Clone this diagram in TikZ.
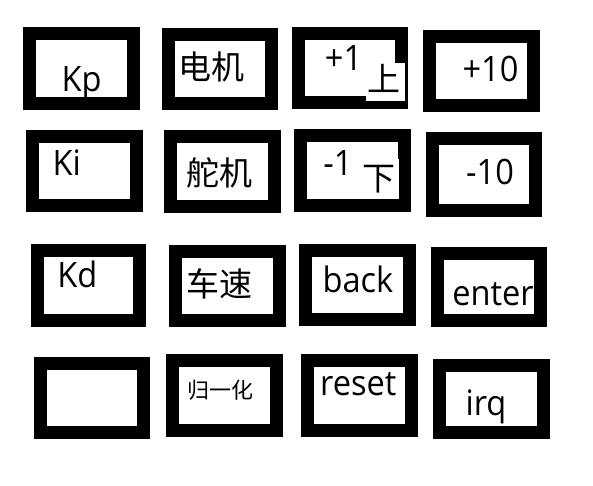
\documentclass[tikz,border=0pt]{standalone}
\usepackage{fontspec}
\setmainfont{Open Sans}[FakeStretch=0.93]
\newfontfamily\cjk{Noto Sans CJK SC}
\tikzset{
  keybox/.style={draw=black, line width=13pt, fill=white, inner sep=0pt},
  lat/.style={anchor=base, inner sep=0pt, font=\fontsize{35}{40}\selectfont},
  han/.style={anchor=base, inner sep=0pt, font=\cjk\fontsize{33}{38}\selectfont},
  hansmall/.style={anchor=base, inner sep=0pt, font=\cjk\fontsize{22}{26}\selectfont},
}
\begin{document}
\begin{tikzpicture}[x=1pt,y=-1pt]
\useasboundingbox[fill=white] (0,0) rectangle (593,485);
% row 1
\node[keybox, minimum width=103.7pt, minimum height=69.7pt] (b1) at (81.3,68.3) {};
\node[keybox, minimum width=103pt, minimum height=68.7pt] (b2) at (220,68.8) {};
\node[keybox, minimum width=103pt, minimum height=68.7pt] (b3) at (350,67.8) {};
\node[keybox, minimum width=104pt, minimum height=68.7pt] (b4) at (481.5,70.8) {};
% row 2
\node[keybox, minimum width=104pt, minimum height=68.7pt] (b5) at (84.5,170.8) {};
\node[keybox, minimum width=103.7pt, minimum height=69.7pt] (b6) at (222.3,171.3) {};
\node[keybox, minimum width=103.7pt, minimum height=69.7pt] (b7) at (352.3,170.3) {};
\node[keybox, minimum width=102.7pt, minimum height=71.7pt] (b8) at (483.8,174.3) {};
% row 3
\node[keybox, minimum width=102pt, minimum height=69.7pt] (b9) at (88.5,285.3) {};
\node[keybox, minimum width=104pt, minimum height=69pt] (b10) at (227.5,286) {};
\node[keybox, minimum width=104pt, minimum height=69pt] (b11) at (357.5,285) {};
\node[keybox, minimum width=103pt, minimum height=67pt] (b12) at (489,287) {};
% row 4
\node[keybox, minimum width=103pt, minimum height=69pt] (b13) at (92,398) {};
\node[keybox, minimum width=104pt, minimum height=70pt] (b14) at (224.5,395.5) {};
\node[keybox, minimum width=104pt, minimum height=70pt] (b15) at (359.5,395.5) {};
\node[keybox, minimum width=104pt, minimum height=67pt] (b16) at (491.5,399) {};
% white patches behind 上 and 下
\fill[white] (366,62.7) rectangle (405,100.7);
\fill[white] (362.7,158.7) rectangle (399.3,199);
% labels
\node[lat] (t1) at (81.7,91.7) {Kp};
\node[han] (t2) at (211.3,79.3) {电机};
\node[lat] (t3) at (343.5,70.3) {+1};
\node[han] (t3b) at (384.2,91.2) {上};
\node[lat] (t4) at (490.5,81) {+10};
\node[lat] (t5) at (66.7,175) {Ki};
\node[han] (t6) at (219.2,185.5) {舵机};
\node[lat] (t7) at (338,175.7) {-1};
\node[han] (t7b) at (379,190.3) {下};
\node[lat] (t8) at (490,184.3) {-10};
\node[lat] (t9) at (77.3,287.7) {Kd};
\node[han] (t10) at (219.5,296.7) {车速};
\node[lat] (t11) at (358,292.7) {back};
\node[lat] (t12) at (493,305) {enter};
\node[hansmall] (t14) at (220.3,398) {归一化};
\node[lat] (t15) at (358.3,395.7) {reset};
\node[lat] (t16) at (486,415.7) {irq};
\end{tikzpicture}
\end{document}
